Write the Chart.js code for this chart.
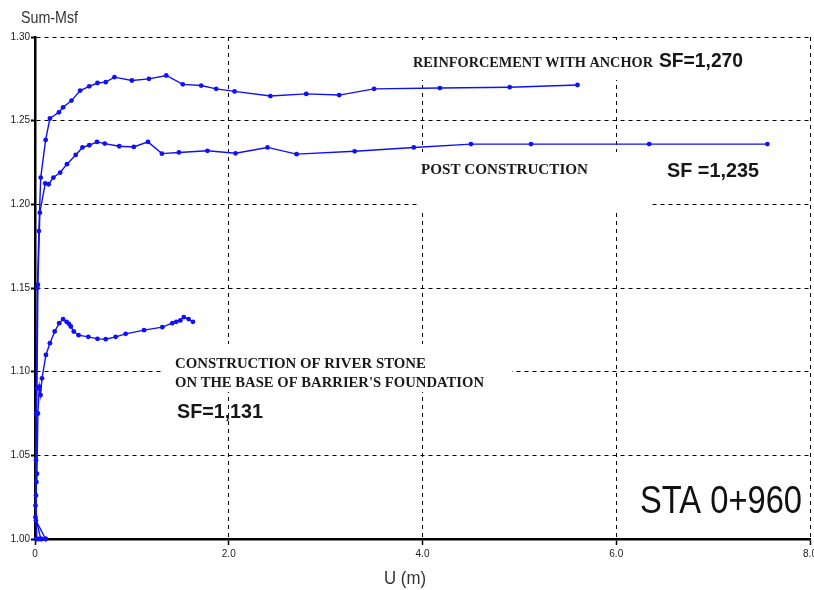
<!DOCTYPE html>
<html>
<head>
<meta charset="utf-8">
<script src="https://cdn.jsdelivr.net/npm/chart.js@4.4.1/dist/chart.umd.min.js"></script>
<style>
  html, body { margin: 0; padding: 0; background: #fff; }
  #wrap { width: 814px; height: 590px; position: relative; }
</style>
</head>
<body>
<div id="wrap"><canvas id="c" width="814" height="590"></canvas></div>
<script>
// ---- data ----
const anchorU  = [0.02, 0.005, 0.012, 0.025, 0.04, 0.059, 0.11, 0.154, 0.247, 0.29, 0.377, 0.466, 0.56, 0.645, 0.73, 0.82, 1.0, 1.176, 1.355, 1.526, 1.715, 1.87, 2.06, 2.43, 2.8, 3.14, 3.5, 4.18, 4.9, 5.6];
const anchorSF = [1.000, 1.020, 1.075, 1.150, 1.184, 1.216, 1.2385, 1.2513, 1.255, 1.258, 1.262, 1.268, 1.2705, 1.2725, 1.273, 1.276, 1.274, 1.275, 1.277, 1.2717, 1.271, 1.269, 1.2675, 1.2647, 1.266, 1.2653, 1.269, 1.2695, 1.270, 1.2713];

const postU  = [0.06, 0.005, 0.01, 0.02, 0.03, 0.05, 0.106, 0.141, 0.19, 0.26, 0.33, 0.42, 0.49, 0.56, 0.64, 0.72, 0.87, 1.02, 1.166, 1.31, 1.485, 1.78, 2.07, 2.4, 2.7, 3.3, 3.91, 4.5, 5.12, 6.34, 7.56];
const postSF = [1.000, 1.013, 1.047, 1.090, 1.152, 1.195, 1.2125, 1.212, 1.216, 1.219, 1.224, 1.2295, 1.234, 1.2353, 1.2373, 1.2363, 1.2347, 1.2343, 1.2373, 1.2303, 1.231, 1.232, 1.2305, 1.234, 1.230, 1.2317, 1.234, 1.236, 1.236, 1.236, 1.236];

const riverU  = [0.11, 0.01, 0.01, 0.015, 0.02, 0.03, 0.045, 0.058, 0.072, 0.113, 0.154, 0.203, 0.25, 0.29, 0.326, 0.35, 0.37, 0.40, 0.45, 0.55, 0.645, 0.73, 0.833, 0.936, 1.125, 1.314, 1.417, 1.458, 1.5, 1.536, 1.585, 1.63];
const riverSF = [1.000, 1.011, 1.026, 1.034, 1.039, 1.075, 1.091, 1.086, 1.096, 1.110, 1.117, 1.124, 1.129, 1.1314, 1.1298, 1.1286, 1.127, 1.124, 1.1218, 1.1208, 1.1196, 1.1194, 1.1208, 1.1226, 1.1248, 1.1266, 1.129, 1.1298, 1.1306, 1.1326, 1.1314, 1.1298];

const baseU  = [0.01, 0.04, 0.07, 0.11];
const baseSF = [1.000, 1.000, 1.000, 1.000];

const xTicks = [0, 2, 4, 6, 8];
const yTicks = [1.00, 1.05, 1.10, 1.15, 1.20, 1.25, 1.30];

const seriesNames = ['REINFORCEMENT WITH ANCHOR', 'POST CONSTRUCTION', "CONSTRUCTION OF RIVER STONE", 'base'];

function pts(us, sfs) { return us.map((u, i) => ({ x: u, y: sfs[i] })); }

const BLUE = '#1010f8';
const sans = "'Liberation Sans', Arial, sans-serif";
const serif = "'Liberation Serif', 'DejaVu Serif', serif";

function ds(label, data) {
  return {
    label, data, showLine: true,
    borderColor: BLUE, backgroundColor: BLUE,
    borderWidth: 1.4, pointRadius: 2.4, pointBorderWidth: 0,
    pointBackgroundColor: BLUE, tension: 0, clip: false
  };
}

// draw text horizontally squeezed to a target width (condensed look)
function fitText(ctx, text, x, y, font, width, align) {
  ctx.save();
  ctx.font = font;
  const w = ctx.measureText(text).width;
  const s = width / w;
  let x0 = x;
  if (align === 'center') x0 = x - width / 2;
  ctx.translate(x0, y);
  ctx.scale(s, 1);
  ctx.textAlign = 'left';
  ctx.fillText(text, 0, 0);
  ctx.restore();
}

const annot = {
  id: 'annot',
  beforeDatasetsDraw(chart) {
    const ctx = chart.ctx;
    ctx.save();
    ctx.fillStyle = '#fff';
    ctx.fillRect(405, 40, 395, 40);
    ctx.fillRect(418, 152, 234, 60);
    ctx.fillRect(164, 344, 348, 48);
    ctx.restore();
  },
  afterDraw(chart) {
    const ctx = chart.ctx;
    ctx.save();
    ctx.fillStyle = '#1a1a1a';
    ctx.textBaseline = 'alphabetic';
    fitText(ctx, 'REINFORCEMENT WITH ANCHOR', 413, 67, "bold 14.5px " + serif, 240);
    fitText(ctx, 'POST CONSTRUCTION', 421, 174, "bold 15px " + serif, 167);
    fitText(ctx, 'CONSTRUCTION OF RIVER STONE', 175, 368, "bold 15px " + serif, 251);
    fitText(ctx, "ON THE BASE OF BARRIER'S FOUNDATION", 175, 387, "bold 15px " + serif, 309);
    ctx.fillStyle = '#161616';
    fitText(ctx, 'SF=1,270', 659, 67, "bold 21px " + sans, 84);
    fitText(ctx, 'SF =1,235', 667, 177, "bold 21px " + sans, 92);
    fitText(ctx, 'SF=1,131', 177, 418, "bold 20px " + sans, 86);
    ctx.fillStyle = '#111';
    fitText(ctx, 'STA 0+960', 640, 513, "39px " + sans, 162);
    ctx.fillStyle = '#333';
    fitText(ctx, 'Sum-Msf', 21, 23, "16px " + sans, 57);
    fitText(ctx, 'U (m)', 405, 584, "18px " + sans, 42, 'center');
    ctx.restore();
  }
};

new Chart(document.getElementById('c'), {
  type: 'scatter',
  data: {
    datasets: [
      ds(seriesNames[0], pts(anchorU, anchorSF)),
      ds(seriesNames[1], pts(postU, postSF)),
      ds(seriesNames[2], pts(riverU, riverSF)),
      ds(seriesNames[3], pts(baseU, baseSF))
    ]
  },
  options: {
    responsive: false,
    animation: false,
    devicePixelRatio: 1,
    layout: { padding: { top: 37, right: -2, left: 0, bottom: 0 } },
    plugins: { legend: { display: false }, tooltip: { enabled: false } },
    scales: {
      x: {
        type: 'linear', min: 0, max: 8,
        afterBuildTicks(s) { s.ticks = xTicks.map(v => ({ value: v })); },
        afterFit(s) { s.height = 51; s.paddingLeft = 0; s.paddingRight = 0; },
        grid: { color: '#000', lineWidth: 1, drawTicks: true, tickLength: 6, tickColor: '#000', tickWidth: 1.5, tickBorderDash: [] },
        border: { display: true, color: '#000', width: 2.5, dash: [4, 4] },
        ticks: {
          autoSkip: false, maxRotation: 0, padding: 3, color: '#222',
          font: { family: sans, size: 10 },
          callback: v => v === 0 ? '0' : v.toFixed(1)
        }
      },
      y: {
        type: 'linear', min: 1.0, max: 1.3,
        afterBuildTicks(s) { s.ticks = yTicks.map(v => ({ value: v })); },
        afterFit(s) { s.width = 35; s.paddingTop = 0; s.paddingBottom = 0; },
        grid: { color: '#000', lineWidth: 1, drawTicks: true, tickLength: 4, tickColor: '#000', tickWidth: 2, tickBorderDash: [] },
        border: { display: true, color: '#000', width: 2.5, dash: [4, 4] },
        ticks: {
          autoSkip: false, padding: 1, color: '#222',
          font: { family: sans, size: 10 },
          callback: v => v.toFixed(2)
        }
      }
    }
  },
  plugins: [annot]
});
</script>
</body>
</html>
